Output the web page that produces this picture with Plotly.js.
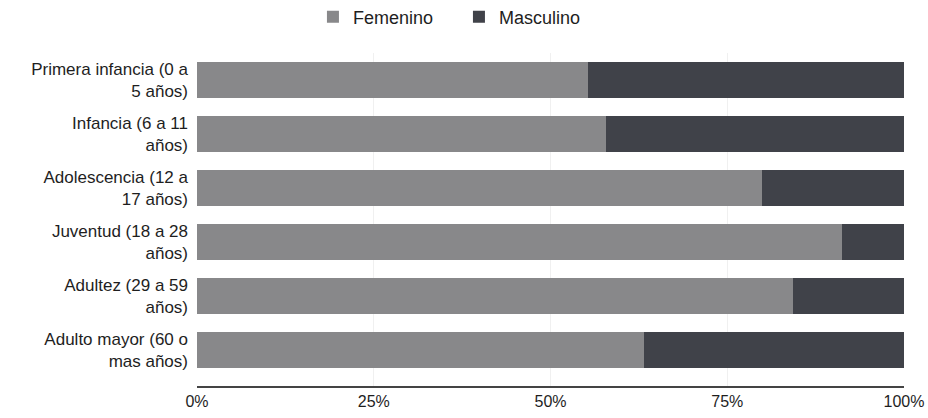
<!DOCTYPE html>
<html>
<head>
<meta charset="utf-8">
<script src="https://cdn.plot.ly/plotly-3.0.1.min.js"></script>
<style>html,body{margin:0;padding:0;background:#fff;}#chart{width:928px;height:418px;}</style>
</head>
<body>
<div id="chart"></div>
<script>
const categories = [
  "Primera infancia (0 a<br>5 años)",
  "Infancia (6 a 11<br>años)",
  "Adolescencia (12 a<br>17 años)",
  "Juventud (18 a 28<br>años)",
  "Adultez (29 a 59<br>años)",
  "Adulto mayor (60 o<br>mas años)"
];
const femenino = [55.3, 57.9, 79.9, 91.2, 84.3, 63.2];
const masculino = [44.7, 42.1, 20.1, 8.8, 15.7, 36.8];
const tickVals = [0, 25, 50, 75, 100];
const tickText = ["0%", "25%", "50%", "75%", "100%"];

const fam = "Liberation Sans, Arial, sans-serif";

const traces = [
  {type: "bar", orientation: "h", name: "Femenino", y: categories, x: femenino,
   marker: {color: "#88888a", line: {width: 0}}},
  {type: "bar", orientation: "h", name: "Masculino", y: categories, x: masculino,
   marker: {color: "#404249", line: {width: 0}}}
];

const layout = {
  width: 928, height: 418,
  margin: {l: 197, r: 24, t: 53, b: 32, autoexpand: false},
  barmode: "stack",
  bargap: 0.333,
  font: {family: fam, size: 16, color: "#1e1e1e"},
  paper_bgcolor: "#fff", plot_bgcolor: "#fff",
  showlegend: true,
  legend: {orientation: "h", x: 0.164, xanchor: "left", y: 1.108, yanchor: "middle",
           entrywidth: 101, entrywidthmode: "pixels",
           font: {family: fam, size: 18, color: "#1e1e1e"}, traceorder: "normal"},
  xaxis: {range: [0, 100], tickvals: tickVals, ticktext: tickText, showgrid: true,
          gridcolor: "#f0f0f0", zeroline: false, showline: true, linecolor: "#444", linewidth: 2,
          ticks: "", fixedrange: true, tickfont: {family: fam, size: 16, color: "#1e1e1e"}},
  yaxis: {type: "category", categoryorder: "array", categoryarray: categories,
          range: [5.667, -0.5], showgrid: false, zeroline: false, showline: false,
          ticks: "", ticklabelstandoff: 8, tickfont: {family: fam, size: 17, color: "#1e1e1e"}}
};

Plotly.newPlot("chart", traces, layout, {displayModeBar: false, staticPlot: true});
</script>
</body>
</html>
